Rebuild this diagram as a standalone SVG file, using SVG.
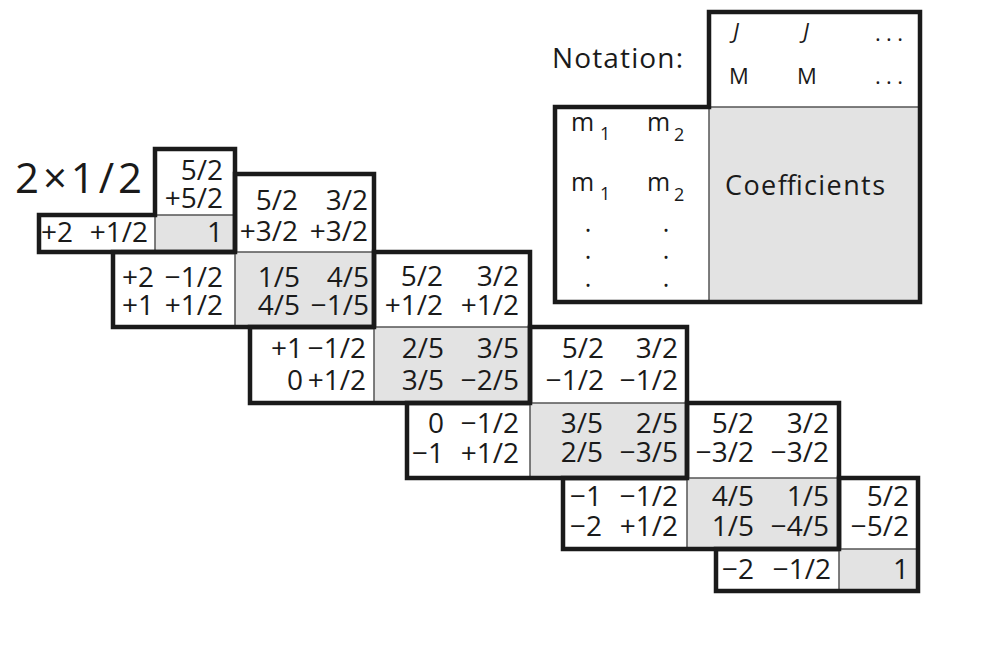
<svg xmlns="http://www.w3.org/2000/svg" width="986" height="650" viewBox="0 0 986 650">
<style>
.thick{fill:none;stroke:#1a1a1a;stroke-width:4.5;stroke-linejoin:miter}
.thin{fill:none;stroke:#555;stroke-width:1.5}
.grey{fill:#e3e3e3}
text{font-family:"Open Sans","Noto Sans",sans-serif;fill:#1a1a1a}
.t{font-size:28px;text-anchor:end}
.n{font-size:22px}
.m{font-size:25px}
.s{font-size:18px}
</style>
<rect width="986" height="650" fill="#fff"/>
<text x="15" y="193" font-size="42" textLength="127">2×1/2</text>

<g id="notation">
<rect class="grey" x="709" y="107" width="211" height="195"/>
<path class="thin" d="M709 107H920M709 107V302"/>
<path class="thick" d="M555 107H709V12H920V302H555Z"/>
<text x="552" y="68" font-size="28" textLength="131">Notation:</text>
<text class="n" x="733" y="39" font-style="italic">J</text>
<text class="n" x="803" y="39" font-style="italic">J</text>
<text class="n" x="875" y="41" textLength="28">...</text>
<text class="n" x="729" y="84">M</text>
<text class="n" x="797" y="84">M</text>
<text class="n" x="875" y="84" textLength="28">...</text>
<text class="m" x="571" y="131">m<tspan class="s" x="600" y="140">1</tspan></text>
<text class="m" x="647" y="131">m<tspan class="s" x="674" y="141">2</tspan></text>
<text class="m" x="571" y="191">m<tspan class="s" x="600" y="200">1</tspan></text>
<text class="m" x="647" y="191">m<tspan class="s" x="674" y="201">2</tspan></text>
<g class="m" text-anchor="middle">
<text x="588" y="232">.</text><text x="588" y="259">.</text><text x="588" y="287">.</text>
<text x="666" y="232">.</text><text x="666" y="259">.</text><text x="666" y="287">.</text>
</g>
<text x="725" y="195" font-size="27" textLength="160">Coefficients</text>
</g>

<g id="block-M5_2">
<rect class="grey" x="155" y="215" width="80" height="37"/>
<path class="thin" d="M155 215H235M155 215V252"/>
<path class="thick" d="M39 215H155V149H235V252H39Z"/>
<text class="t" x="223" y="180">5/2</text>
<text class="t" x="223" y="208">+5/2</text>
<text class="t" x="73" y="242">+2</text>
<text class="t" x="148" y="242">+1/2</text>
<text class="t" x="223" y="242">1</text>
</g>

<g id="block-M3_2">
<rect class="grey" x="235" y="252" width="139" height="75"/>
<path class="thin" d="M235 252H374M235 252V327"/>
<path class="thick" d="M113 252H235V174H374V327H113Z"/>
<text class="t" x="298" y="210">5/2</text>
<text class="t" x="368" y="210">3/2</text>
<text class="t" x="298" y="241">+3/2</text>
<text class="t" x="368" y="241">+3/2</text>
<text class="t" x="154" y="287">+2</text>
<text class="t" x="223" y="287">−1/2</text>
<text class="t" x="154" y="315">+1</text>
<text class="t" x="223" y="315">+1/2</text>
<text class="t" x="300" y="287">1/5</text>
<text class="t" x="369" y="287">4/5</text>
<text class="t" x="300" y="315">4/5</text>
<text class="t" x="369" y="315">−1/5</text>
</g>

<g id="block-M1_2">
<rect class="grey" x="374" y="327" width="156" height="76"/>
<path class="thin" d="M374 327H530M374 327V403"/>
<path class="thick" d="M250 327H374V252H530V403H250Z"/>
<text class="t" x="443" y="286">5/2</text>
<text class="t" x="519" y="286">3/2</text>
<text class="t" x="443" y="315">+1/2</text>
<text class="t" x="519" y="315">+1/2</text>
<text class="t" x="303" y="358">+1</text>
<text class="t" x="366" y="358">−1/2</text>
<text class="t" x="303" y="390">0</text>
<text class="t" x="366" y="390">+1/2</text>
<text class="t" x="444" y="358">2/5</text>
<text class="t" x="519" y="358">3/5</text>
<text class="t" x="444" y="390">3/5</text>
<text class="t" x="519" y="390">−2/5</text>
</g>

<g id="block-Mm1_2">
<rect class="grey" x="530" y="403" width="157" height="75"/>
<path class="thin" d="M530 403H687M530 403V478"/>
<path class="thick" d="M407 403H530V327H687V478H407Z"/>
<text class="t" x="604" y="358">5/2</text>
<text class="t" x="678" y="358">3/2</text>
<text class="t" x="604" y="390">−1/2</text>
<text class="t" x="678" y="390">−1/2</text>
<text class="t" x="444" y="433">0</text>
<text class="t" x="519" y="433">−1/2</text>
<text class="t" x="444" y="463">−1</text>
<text class="t" x="519" y="463">+1/2</text>
<text class="t" x="603" y="433">3/5</text>
<text class="t" x="678" y="433">2/5</text>
<text class="t" x="603" y="462">2/5</text>
<text class="t" x="678" y="462">−3/5</text>
</g>

<g id="block-Mm3_2">
<rect class="grey" x="687" y="478" width="152" height="71"/>
<path class="thin" d="M687 478H839M687 478V549"/>
<path class="thick" d="M563 478H687V403H839V549H563Z"/>
<text class="t" x="754" y="433">5/2</text>
<text class="t" x="829" y="433">3/2</text>
<text class="t" x="754" y="462">−3/2</text>
<text class="t" x="829" y="462">−3/2</text>
<text class="t" x="602" y="506">−1</text>
<text class="t" x="678" y="506">−1/2</text>
<text class="t" x="602" y="536">−2</text>
<text class="t" x="678" y="536">+1/2</text>
<text class="t" x="754" y="506">4/5</text>
<text class="t" x="829" y="506">1/5</text>
<text class="t" x="754" y="536">1/5</text>
<text class="t" x="829" y="536">−4/5</text>
</g>

<g id="block-Mm5_2">
<rect class="grey" x="839" y="549" width="79" height="42"/>
<path class="thin" d="M839 549H918M839 549V591"/>
<path class="thick" d="M716 549H839V478H918V591H716Z"/>
<text class="t" x="909" y="506">5/2</text>
<text class="t" x="909" y="536">−5/2</text>
<text class="t" x="754" y="579">−2</text>
<text class="t" x="831" y="579">−1/2</text>
<text class="t" x="909" y="579">1</text>
</g>
</svg>
